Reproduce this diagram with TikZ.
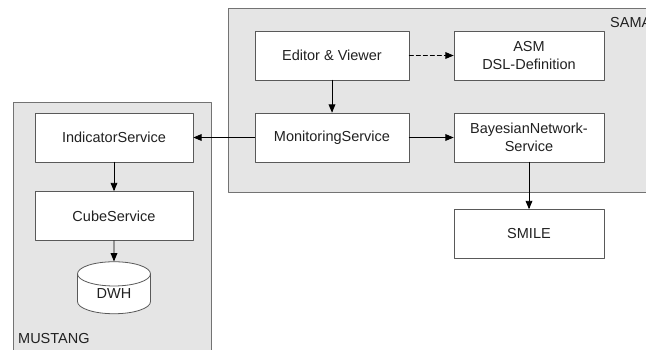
\documentclass[tikz,border=0pt]{standalone}
\usepackage{fontspec}
\setmainfont{Liberation Sans}
\usetikzlibrary{arrows,shapes.geometric}
\definecolor{grpfill}{rgb}{0.9,0.9,0.9}
\definecolor{grpline}{rgb}{0.45,0.45,0.45}
\definecolor{boxline}{rgb}{0.35,0.35,0.35}
\definecolor{txtgray}{rgb}{0.13,0.13,0.13}

\begin{document}
\begin{tikzpicture}[line cap=round,line join=round,>=triangle 45,x=1pt,y=-1pt,
  svcbox/.style={draw=boxline,line width=0.8pt,fill=white,minimum width=154pt,minimum height=49pt,
    align=center,inner sep=0pt,text=txtgray,font=\fontsize{14.5}{18}\selectfont},
  group/.style={draw=grpline,line width=0.9pt,fill=grpfill},
  grplabel/.style={anchor=base west,inner sep=0pt,text=txtgray,font=\fontsize{14.5}{18}\selectfont}]
\clip (0,0) rectangle (646,349);
\fill[white] (0,0) rectangle (646,349);
% groups
\draw[group] (228,8) rectangle (660,192);
\draw[group] (13,102) rectangle (211,360);
\node[grplabel] (samalbl) at (610,27) {SAMA};
\node[grplabel] (mustanglbl) at (18,343) {MUSTANG};
% services
\node[svcbox] (editor) at (332,55.5) {Editor \& Viewer};
\node[svcbox,minimum width=150pt] (asm) at (529,55.5) {ASM\\DSL-Definition};
\node[svcbox] (monitor) at (332,137.5) {MonitoringService};
\node[svcbox,minimum width=150pt] (bayes) at (529,137.5) {BayesianNetwork-\\Service};
\node[svcbox,minimum width=158pt] (indicator) at (114,137.5) {IndicatorService};
\node[svcbox,minimum width=158pt] (cube) at (114,216) {CubeService};
\node[svcbox,minimum width=150pt] (smile) at (529,234) {SMILE};
\node[svcbox,cylinder,shape border rotate=90,aspect=0.7,minimum width=73pt,minimum height=52pt] (dwh) at (114,294) {DWH};
% connectors
\draw[->,line width=0.9pt] (editor) -- (monitor);
\draw[->,line width=0.9pt,dash pattern=on 4pt off 3pt] (editor) -- (asm);
\draw[->,line width=0.9pt] (monitor) -- (indicator);
\draw[->,line width=0.9pt] (monitor) -- (bayes);
\draw[->,line width=0.9pt] (indicator) -- (cube);
\draw[->,line width=0.9pt] (cube) -- (dwh);
\draw[->,line width=0.9pt] (bayes) -- (smile);
\end{tikzpicture}
\end{document}
